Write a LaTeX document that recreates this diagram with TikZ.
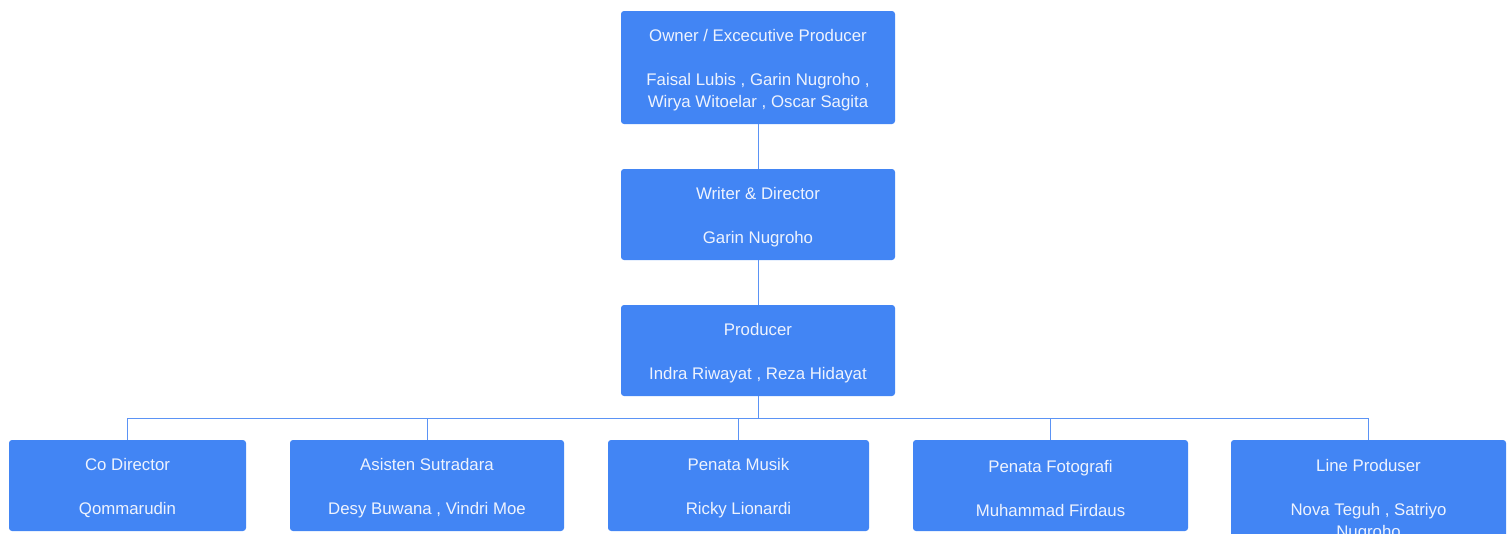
\documentclass[tikz,border=0pt]{standalone}
\usepackage{fontspec}
\setmainfont{Liberation Sans}
\usepackage{tikz}
\usetikzlibrary{arrows.meta}
\definecolor{boxblue}{HTML}{4285F4}
\definecolor{lineblue}{HTML}{5B93F5}
\definecolor{boxtext}{HTML}{EEF3FE}
\newcommand{\roletext}[2]{\rule{0pt}{18pt}#1\\[22pt]#2}

\begin{document}
\begin{tikzpicture}[x=1pt, y=-1pt]
				\useasboundingbox (0,0) rectangle (1511,533);
				\clip (0,0) rectangle (1511,533);
				\begin{scope}[every node/.style = {rectangle, fill=boxblue, rounded corners=3pt,
						text=boxtext, align=center, inner sep=0pt,
						font=\fontsize{16.8}{22}\selectfont}]
					\node[minimum width=274pt, minimum height=113pt] (owner) at (758,67.5)
						{\roletext{Owner / Excecutive Producer}{Faisal Lubis , Garin Nugroho ,\\Wirya Witoelar , Oscar Sagita}};
					\node[minimum width=274pt, minimum height=91pt] (writer) at (758,214.5)
						{\roletext{Writer \& Director}{Garin Nugroho}};
					\node[minimum width=274pt, minimum height=91pt] (producer) at (758,350.5)
						{\roletext{Producer}{Indra Riwayat , Reza Hidayat}};
					\node[minimum width=237pt, minimum height=91pt] (codir) at (127.5,485.5)
						{\roletext{Co Director}{Qommarudin}};
					\node[minimum width=274pt, minimum height=91pt] (asisten) at (427,485.5)
						{\roletext{Asisten Sutradara}{Desy Buwana , Vindri Moe}};
					\node[minimum width=261pt, minimum height=91pt] (musik) at (738.5,485.5)
						{\roletext{Penata Musik}{Ricky Lionardi}};
					\node[minimum width=275pt, minimum height=91pt] (foto) at (1050.5,485.5)
						{\roletext{Penata Fotografi}{Muhammad Firdaus}};
					\node[minimum width=275pt, minimum height=114pt] (lineprod) at (1368.5,497)
						{\roletext{Line Produser}{Nova Teguh , Satriyo\\Nugroho}};
				\end{scope}
				\begin{scope}[every edge/.style={draw=lineblue, line width=1pt}]
					\path [-] (owner) edge (writer);
					\path [-] (writer) edge (producer);
				\end{scope}
				\begin{scope}[draw=lineblue, line width=1pt]
					\draw (producer.south) -- ++(0,22) -| (codir.north);
					\draw (producer.south) -- ++(0,22) -| (asisten.north);
					\draw (producer.south) -- ++(0,22) -| (musik.north);
					\draw (producer.south) -- ++(0,22) -| (foto.north);
					\draw (producer.south) -- ++(0,22) -| (lineprod.north);
				\end{scope}
			\end{tikzpicture}
\end{document}
